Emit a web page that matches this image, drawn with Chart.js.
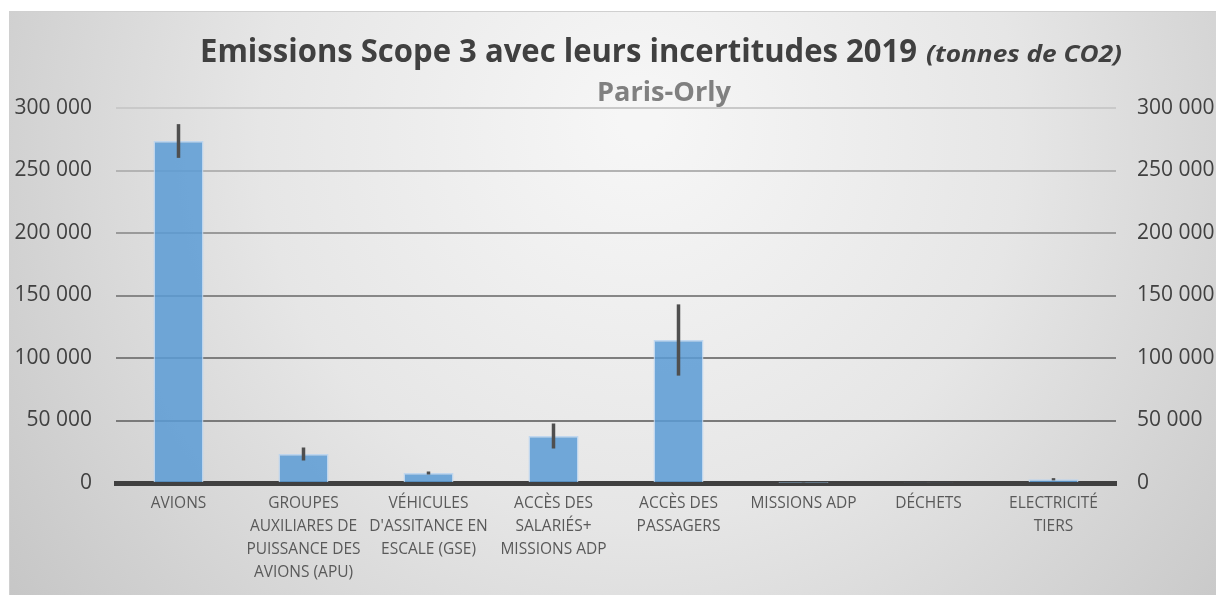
<!DOCTYPE html>
<html>
<head>
<meta charset="utf-8">
<script src="https://cdn.jsdelivr.net/npm/chart.js@4"></script>
<style>
html,body{margin:0;padding:0;background:#fff;}
#wrap{width:1216px;height:595px;position:relative;}
</style>
</head>
<body>
<div id="wrap"><canvas id="c" width="1216" height="595"></canvas></div>
<script>
const categories = [
  'AVIONS',
  ['GROUPES', 'AUXILIARES DE', 'PUISSANCE DES', 'AVIONS (APU)'],
  ['VÉHICULES', "D'ASSITANCE EN", 'ESCALE (GSE)'],
  ['ACCÈS DES', 'SALARIÉS+', 'MISSIONS ADP'],
  ['ACCÈS DES', 'PASSAGERS'],
  'MISSIONS ADP',
  'DÉCHETS',
  ['ELECTRICITÉ', 'TIERS']
];
const emissions = [273600, 23200, 8000, 37600, 114400, 300, 600, 3000];
const uncertainties = [13500, 5200, 1200, 10000, 28500, 200, 300, 900];
const yTicks = [0, 50000, 100000, 150000, 200000, 250000, 300000];

const titleMain = 'Emissions Scope 3 avec leurs incertitudes 2019';
const titleUnit = '(tonnes de CO2)';
const subtitleText = 'Paris-Orly';

function fmt(v){ return String(v).replace(/\B(?=(\d{3})+(?!\d))/g, ' '); }

const FONT = "'Open Sans', 'Noto Sans', sans-serif";

const bgPlugin = {
  id: 'bg',
  beforeDraw(chart){
    const ctx = chart.ctx;
    ctx.save();
    ctx.fillStyle = '#ffffff';
    ctx.fillRect(0,0,chart.width,chart.height);
    const g = ctx.createRadialGradient(640, 120, 20, 640, 160, 820);
    g.addColorStop(0, '#f6f6f6');
    g.addColorStop(0.45, '#e6e6e6');
    g.addColorStop(1, '#c2c2c2');
    ctx.fillStyle = g;
    ctx.fillRect(9, 11, chart.width - 9, chart.height - 11);
    ctx.strokeStyle = '#d0d0d0';
    ctx.lineWidth = 1;
    ctx.strokeRect(9.5, 11.5, chart.width - 9, chart.height - 11);
    ctx.restore();
  }
};

function drawFit(ctx, text, x, y, width){
  const w = ctx.measureText(text).width;
  const s = width / w;
  ctx.save();
  ctx.translate(x, y);
  ctx.scale(s, 1);
  ctx.fillText(text, 0, 0);
  ctx.restore();
}

const titlePlugin = {
  id: 'titles',
  afterDraw(chart){
    const ctx = chart.ctx;
    ctx.save();
    ctx.textBaseline = 'alphabetic';
    ctx.textAlign = 'left';
    ctx.fillStyle = '#404040';
    ctx.font = "bold 33px " + FONT;
    drawFit(ctx, titleMain, 200, 62, 717);
    ctx.font = "italic bold 24px " + FONT;
    drawFit(ctx, titleUnit, 926, 62, 196);
    ctx.fillStyle = '#808080';
    ctx.font = "bold 26px " + FONT;
    drawFit(ctx, subtitleText, 597, 101, 134);
    ctx.restore();
  }
};

const errPlugin = {
  id: 'errbars',
  afterDatasetsDraw(chart){
    const ctx = chart.ctx;
    const meta = chart.getDatasetMeta(0);
    const ys = chart.scales.y;
    ctx.save();
    ctx.strokeStyle = '#4f4f4f';
    ctx.lineWidth = 3.5;
    ctx.lineCap = 'butt';
    meta.data.forEach((bar, i) => {
      const v = emissions[i], e = uncertainties[i];
      const y1 = ys.getPixelForValue(v + e);
      const y2 = ys.getPixelForValue(Math.max(0, v - e));
      ctx.beginPath();
      ctx.moveTo(bar.x, y1);
      ctx.lineTo(bar.x, y2);
      ctx.stroke();
    });
    ctx.restore();
  }
};

const gridColors = {300000:'#c9c9c9', 250000:'#b3b3b3', 200000:'#9a9a9a', 150000:'#878787', 100000:'#7e7e7e', 50000:'#7a7a7a', 0:'#7a7a7a'};

new Chart(document.getElementById('c'), {
  type: 'bar',
  data: {
    labels: categories,
    datasets: [{
      data: emissions,
      backgroundColor: 'rgba(91,155,213,0.85)',
      borderColor: 'rgba(185,212,240,0.85)',
      borderWidth: 1.5,
      barPercentage: 0.4,
      categoryPercentage: 1.0
    }]
  },
  options: {
    responsive: false,
    animation: false,
    devicePixelRatio: 1,
    layout: { padding: { top: 108, left: 0, right: 0, bottom: 0 } },
    plugins: { legend: { display: false }, tooltip: { enabled: false }, title: { display: false } },
    scales: {
      x: {
        z: 1,
        grid: { display: false, drawTicks: false },
        border: { display: true, color: '#404040', width: 5 },
        ticks: {
          color: '#595959',
          font: { family: FONT, size: 15.5, lineHeight: 1.48 },
          padding: 9,
          autoSkip: false,
          maxRotation: 0,
          minRotation: 0
        },
        afterFit(s){ s.height = 112; }
      },
      y: {
        position: 'left',
        min: 0, max: 300000,
        afterBuildTicks(s){ s.ticks = yTicks.map(v => ({value: v})); },
        grid: {
          drawTicks: false,
          lineWidth: 2,
          color: (c) => gridColors[c.tick ? c.tick.value : 0] || '#808080'
        },
        border: { display: false },
        ticks: {
          color: '#404040',
          font: { family: FONT, size: 21 },
          padding: 24,
          callback: (v) => fmt(v)
        },
        afterFit(s){ s.width = 116; }
      },
      y2: {
        position: 'right',
        min: 0, max: 300000,
        afterBuildTicks(s){ s.ticks = yTicks.map(v => ({value: v})); },
        grid: { display: false, drawTicks: false },
        border: { display: false },
        ticks: {
          color: '#404040',
          font: { family: FONT, size: 21 },
          padding: 21,
          callback: (v) => fmt(v)
        },
        afterFit(s){ s.width = 100; }
      }
    }
  },
  plugins: [bgPlugin, titlePlugin, errPlugin]
});
</script>
</body>
</html>
